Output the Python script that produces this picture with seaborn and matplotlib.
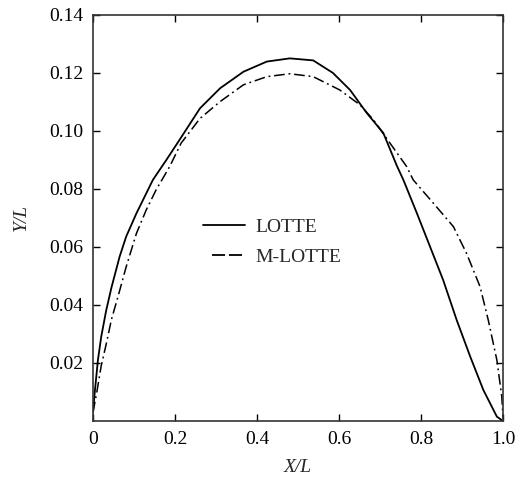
import matplotlib
matplotlib.use("Agg")
import matplotlib.pyplot as plt
import seaborn as sns
import pandas as pd
from matplotlib.lines import Line2D

sns.set_theme(style="ticks")
plt.rcParams['font.family'] = ['Liberation Serif', 'DejaVu Serif']

lotte_x = [0.0, 0.004, 0.012, 0.02, 0.032, 0.045, 0.065, 0.081, 0.106, 0.122, 0.146, 0.179,
           0.211, 0.261, 0.31, 0.367, 0.424, 0.48, 0.537, 0.585, 0.627, 0.668, 0.708, 0.741,
           0.757, 0.79, 0.822, 0.854, 0.887, 0.92, 0.952, 0.985, 1.0]
lotte_y = [0.003, 0.0095, 0.021, 0.029, 0.038, 0.046, 0.0567, 0.0636, 0.0716, 0.0762, 0.0831, 0.090,
           0.0969, 0.1078, 0.1147, 0.1204, 0.1239, 0.1250, 0.1243, 0.1200, 0.1141, 0.1061, 0.0993, 0.088,
           0.0831, 0.0716, 0.0601, 0.0486, 0.0348, 0.0222, 0.0107, 0.0015, 0.0]

mlotte_x = [0.0, 0.009, 0.02, 0.033, 0.045, 0.061, 0.081, 0.106, 0.13, 0.154, 0.187, 0.215,
            0.261, 0.31, 0.367, 0.424, 0.48, 0.537, 0.602, 0.651, 0.684, 0.765, 0.781, 0.83,
            0.879, 0.911, 0.944, 0.964, 0.985, 0.997, 1.0]
mlotte_y = [0.003, 0.0097, 0.019, 0.027, 0.035, 0.0429, 0.0532, 0.0647, 0.0728, 0.0797, 0.0877, 0.0958,
            0.1043, 0.1101, 0.1159, 0.1187, 0.1197, 0.1187, 0.1141, 0.109, 0.1038, 0.0877, 0.0831, 0.0751,
            0.067, 0.0578, 0.0463, 0.0348, 0.021, 0.0084, 0.001]

x_ticks = [0, 0.2, 0.4, 0.6, 0.8, 1.0]
x_tick_labels = ["0", "0.2", "0.4", "0.6", "0.8", "1.0"]
y_ticks = [0.02, 0.04, 0.06, 0.08, 0.10, 0.12, 0.14]
y_tick_labels = ["0.02", "0.04", "0.06", "0.08", "0.10", "0.12", "0.14"]

df1 = pd.DataFrame({"x": lotte_x, "y": lotte_y})
df2 = pd.DataFrame({"x": mlotte_x, "y": mlotte_y})

fig = plt.figure(figsize=(5.21, 4.87), dpi=100)
ax = fig.add_axes([0.1785, 0.1355, 0.787, 0.834])

sns.lineplot(data=df1, x="x", y="y", ax=ax, color="black", lw=1.3, sort=False, estimator=None)
sns.lineplot(data=df2, x="x", y="y", ax=ax, color="black", lw=1.1, sort=False, estimator=None)
ax.lines[-1].set_dashes([7, 2.5, 1.2, 2.5])
for ln in ax.lines:
    ln.set_solid_joinstyle("round")
    ln.set_dash_joinstyle("round")

ax.set_xlim(0, 1.0)
ax.set_ylim(0, 0.14)
ax.set_xticks(x_ticks)
ax.set_xticklabels(x_tick_labels)
ax.set_yticks(y_ticks)
ax.set_yticklabels(y_tick_labels)
ax.tick_params(direction="in", length=5, width=1, top=True, right=True, labelsize=14,
               colors="black", pad=7)
for s in ax.spines.values():
    s.set_linewidth(1.2)
    s.set_color("#333333")

ax.set_xlabel("X/L", fontsize=14, style="italic", labelpad=8)
ax.set_ylabel("Y/L", fontsize=14, style="italic", labelpad=14)

handles = [Line2D([], [], color="black", lw=1.3, linestyle="-"),
           Line2D([], [], color="black", lw=1.3, linestyle=(18.3, (7.2, 2.2, 7.2, 6.7)))]
ax.legend(handles, ["LOTTE", "M-LOTTE"], loc="center left", bbox_to_anchor=(0.235, 0.44),
          frameon=False, fontsize=14, handlelength=2.15, handletextpad=0.55, labelspacing=0.65,
          borderpad=0.2)

fig.savefig("out.png", dpi=100)
